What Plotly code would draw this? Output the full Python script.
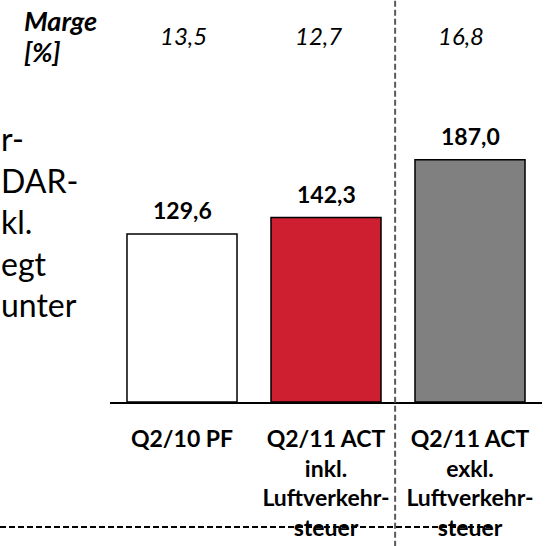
import plotly.graph_objects as go

categories = ["Q2/10 PF", "Q2/11 ACT inkl. Luftverkehrsteuer", "Q2/11 ACT exkl. Luftverkehrsteuer"]
tick_labels = ["Q2/10 PF", "Q2/11 ACT<br>inkl.<br>Luftverkehr-<br>steuer", "Q2/11 ACT<br>exkl.<br>Luftverkehr-<br>steuer"]
values = [129.6, 142.3, 187.0]
value_labels = ["129,6", "142,3", "187,0"]
margins = ["13,5", "12,7", "16,8"]
margin_title = ["Marge", "[%]"]
side_text = ["r-", "DAR-", "kl.", "egt", "unter"]
bar_colors = ["#FFFFFF", "#CE1F30", "#808080"]

FONT = "Lato"
x_idx = list(range(len(categories)))

fig = go.Figure()
fig.add_trace(go.Bar(
    x=x_idx, y=values, width=0.764,
    marker=dict(color=bar_colors, line=dict(color="black", width=1.5)),
    hoverinfo="skip", showlegend=False,
))

# value labels above bars
for i, (v, t) in enumerate(zip(values, value_labels)):
    fig.add_annotation(x=i, y=v, xref="x", yref="y", text=t,
                       showarrow=False, yanchor="bottom", yshift=8,
                       font=dict(family=FONT, size=23, color="black", weight="bold"))

# margin row
m_shift = [1, -8, -9]
for i, m in enumerate(margins):
    fig.add_annotation(x=i, y=0.9125, xref="x", yref="paper", text=m,
                       showarrow=False, xshift=m_shift[i], yanchor="middle",
                       font=dict(family=FONT, size=24, color="black", style="italic"))

for t, yy in zip(margin_title, [0.948, 0.872]):
    fig.add_annotation(x=-0.203, y=yy, xref="paper", yref="paper",
                       text=t, showarrow=False,
                       xanchor="left", yanchor="middle", align="left",
                       font=dict(family=FONT, size=27, color="black", weight="bold", style="italic"))

# side text (clipped at the left edge, as in the source slide)
fig.add_annotation(x=-0.2546, y=0.448, xref="paper", yref="paper",
                   text="<br>".join(side_text), showarrow=False,
                   xanchor="left", yanchor="middle", align="left", xshift=-1,
                   font=dict(family=FONT, size=32, color="black"))

# dashed separators
fig.add_shape(type="line", xref="paper", yref="paper", x0=0.66, x1=0.66, y0=-0.36, y1=1.0,
              line=dict(color="#5a5a5a", width=2, dash="6px,3px"))
fig.add_shape(type="line", xref="paper", yref="paper", x0=-0.2546, x1=0.8866, y0=-0.311, y1=-0.311,
              line=dict(color="black", width=2, dash="6px,3px"))

fig.update_layout(
    width=548, height=546,
    margin=dict(l=110, r=6, t=0, b=144, autoexpand=False),
    paper_bgcolor="white", plot_bgcolor="white",
    xaxis=dict(range=[-0.5, 2.5], tickvals=x_idx, ticktext=tick_labels,
               showline=True, linecolor="black", linewidth=2, ticks="",
               showgrid=False, zeroline=False, ticklabelstandoff=15, automargin=False,
               tickfont=dict(family=FONT, size=23, color="black", weight="bold")),
    yaxis=dict(range=[0, 402 / 1.296], visible=False, showgrid=False, zeroline=False,
               automargin=False),
    bargap=0,
)

fig.write_html("out.html", config={"displayModeBar": False, "staticPlot": True},
               post_script="document.body.style.margin='0';")
